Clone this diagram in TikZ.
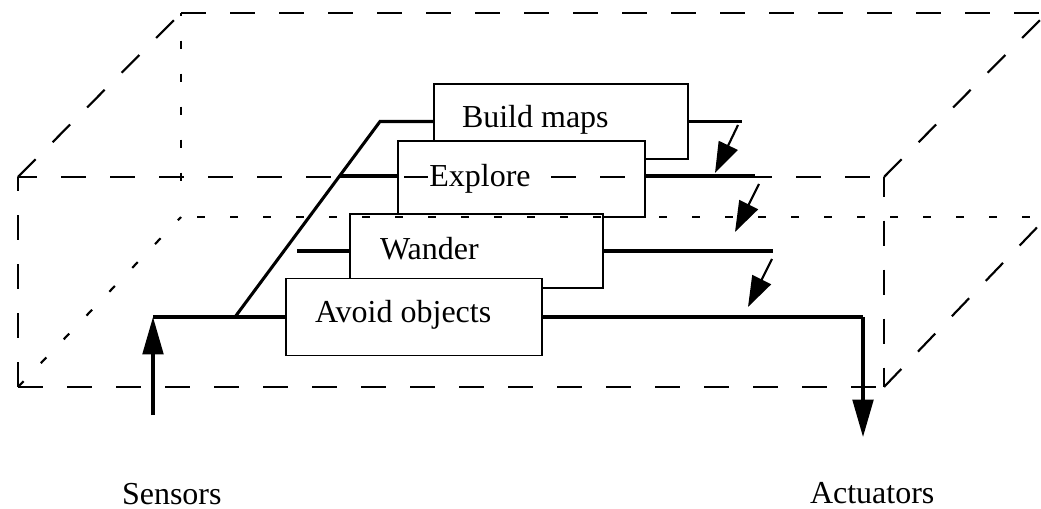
\documentclass[tikz,border=0pt]{standalone}
\usepackage{fontspec}
\setmainfont{Liberation Serif}
\usetikzlibrary{arrows.meta,calc}

\begin{document}
\begin{tikzpicture}[x=0.75pt,y=-0.75pt,
  box/.style={draw, line width=1.4pt, fill=white, rectangle, inner sep=0pt, outer sep=0pt},
  lbl/.style={font=\fontsize{24}{28}\selectfont, inner sep=0pt, outer sep=0pt, anchor=base west},
  wire/.style={line width=2.3pt},
  longdash/.style={line width=1.6pt, dash pattern=on 18.75pt off 18pt},
  shortdash/.style={line width=1.6pt, dash pattern=on 6pt off 18.75pt},
  inhibit/.style={line width=1.6pt, -{Triangle[length=23pt,width=15.5pt]}},
  feed/.style={line width=2.3pt, -{Triangle[length=28pt,width=15.5pt]}},
]
\useasboundingbox (0,0) rectangle (1041,509);
\clip (0,0) rectangle (1041,509);

% behaviour layers, from top to bottom
\node[box, minimum width=190.5pt, minimum height=56.25pt] (build) at (561,121.5) {};
\node[box, minimum width=185.25pt, minimum height=57pt] (explore) at (521.5,179) {};
\node[box, minimum width=189.75pt, minimum height=55.5pt] (wander) at (476.5,251) {};
\node[box, minimum width=192pt, minimum height=57.75pt] (avoid) at (414,317) {};

% wiring points
\coordinate (sensin) at (153,415);
\coordinate (sensjoin) at (153,317);
\coordinate (fork) at (235,317);
\coordinate (bend) at (380,121.5);
\coordinate (exin) at (339,176);
\coordinate (exout) at (755,176);
\coordinate (bmout) at (742,121.5);
\coordinate (wdin) at (297,251);
\coordinate (wdout) at (773,251);
\coordinate (avout) at (863,317);
\coordinate (act) at (863,437);

% sensor input and layer wires
\draw[feed] (sensin) -- (sensjoin);
\draw[wire] (sensjoin) -- (avoid.west);
\draw[wire] (fork) -- (bend) -- (build.west);
\draw[wire] (build.east) -- (bmout);
\draw[wire] (exin) -- (exin -| explore.west);
\draw[wire] (exin -| explore.east) -- (exout);
\draw[wire] (wdin) -- (wander.west);
\draw[wire] (wander.east) -- (wdout);
\draw[wire] (avoid.east) -- (avout);
\draw[feed] (avout) -- (act);

% robot body: back face and hidden edges
\draw[longdash] (181,13) -- (1047,13);
\draw[shortdash, dash phase=4pt] (181,13) -- (181,200);
\draw[shortdash, dash phase=12.75pt] (181,217) -- (1047,217);
\draw[shortdash] (18,387) -- (181,217);
% front face
\draw[longdash, dash phase=4.5pt] (18,177) -- (884,177);
\draw[longdash] (18,387) -- (884,387);
\draw[longdash, dash phase=8pt] (18,177) -- (18,387);
\draw[longdash, dash phase=4pt] (884,177) -- (884,387);
% receding edges
\draw[longdash] (18,177) -- (181,13);
\draw[longdash] (884,177) -- (1047,13);
\draw[longdash] (884,387) -- (1047,217);

% layer names
\node[lbl] (buildtxt) at (462,128) {Build maps};
\node[lbl, fill=white, inner sep=1pt] (exploretxt) at (428,187) {Explore};
\node[lbl] (wandertxt) at (380,260) {Wander};
\node[lbl] (avoidtxt) at (315,322) {Avoid objects};

% suppression arrows
\coordinate (s1a) at (738,125); \coordinate (s1b) at (715,173);
\coordinate (s2a) at (759,184); \coordinate (s2b) at (735,232);
\coordinate (s3a) at (772,259); \coordinate (s3b) at (748,307);
\draw[inhibit] (s1a) -- (s1b);
\draw[inhibit] (s2a) -- (s2b);
\draw[inhibit] (s3a) -- (s3b);

% inputs and outputs
\node[lbl] (sensors) at (122,504) {Sensors};
\node[lbl] (actuators) at (810,503) {Actuators};
\end{tikzpicture}
\end{document}
